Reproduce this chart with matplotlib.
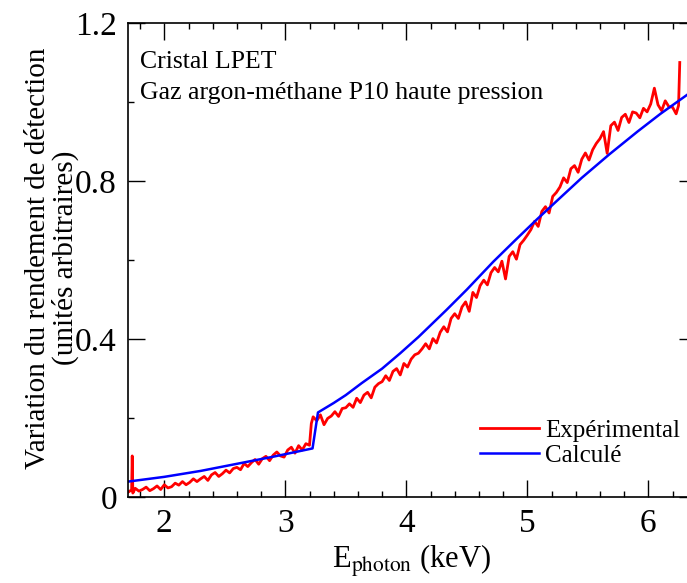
import matplotlib
matplotlib.use('Agg')
import matplotlib.pyplot as plt
from matplotlib.ticker import MultipleLocator, FuncFormatter

plt.rcParams.update({
    'font.family': 'Liberation Serif',
    'mathtext.fontset': 'stix',
    'font.size': 20,
})

exp_energy = [1.70, 1.73, 1.735, 1.74, 1.76, 1.79, 1.82, 1.85, 1.88, 1.91, 1.94, 1.97,
              2.00, 2.03, 2.06, 2.09, 2.12, 2.15, 2.18, 2.21, 2.24, 2.27,
              2.30, 2.33, 2.36, 2.39, 2.42, 2.45, 2.48, 2.51, 2.54, 2.57,
              2.60, 2.63, 2.66, 2.69, 2.72, 2.75, 2.78, 2.81, 2.84, 2.87,
              2.90, 2.93, 2.96, 2.99, 3.02, 3.05, 3.08, 3.11, 3.14, 3.17,
              3.20, 3.215, 3.23, 3.26, 3.29, 3.32, 3.35, 3.38, 3.41, 3.44, 3.47,
              3.50, 3.53, 3.56, 3.59, 3.62, 3.65, 3.68, 3.71, 3.74, 3.77,
              3.80, 3.83, 3.86, 3.89, 3.92, 3.95, 3.98, 4.01, 4.04, 4.07,
              4.10, 4.13, 4.16, 4.19, 4.22, 4.25, 4.28, 4.31, 4.34, 4.37,
              4.40, 4.43, 4.46, 4.49, 4.52, 4.55, 4.58, 4.61, 4.64, 4.67,
              4.70, 4.73, 4.76, 4.79, 4.82, 4.85, 4.88, 4.91, 4.94, 4.97,
              5.00, 5.03, 5.06, 5.09, 5.12, 5.15, 5.18, 5.21, 5.24, 5.27,
              5.30, 5.33, 5.36, 5.39, 5.42, 5.45, 5.48, 5.51, 5.54, 5.57,
              5.60, 5.63, 5.66, 5.69, 5.72, 5.75, 5.78, 5.81, 5.84, 5.87,
              5.90, 5.93, 5.96, 5.99, 6.02, 6.05, 6.08, 6.11, 6.14, 6.17,
              6.20, 6.23, 6.25, 6.26]
exp_yield = [0.012, 0.018, 0.104, 0.010, 0.022, 0.015, 0.019, 0.025, 0.016, 0.021, 0.028, 0.019,
             0.031, 0.023, 0.026, 0.035, 0.030, 0.039, 0.031, 0.037, 0.046, 0.039,
             0.046, 0.052, 0.042, 0.056, 0.062, 0.052, 0.059, 0.068, 0.061, 0.072,
             0.075, 0.069, 0.085, 0.077, 0.087, 0.095, 0.083, 0.097, 0.103, 0.092,
             0.106, 0.114, 0.104, 0.101, 0.119, 0.126, 0.111, 0.130, 0.119, 0.135,
             0.131, 0.186, 0.203, 0.193, 0.208, 0.183, 0.199, 0.205, 0.216, 0.204, 0.224,
             0.226, 0.236, 0.227, 0.250, 0.239, 0.258, 0.265, 0.251, 0.278, 0.287,
             0.292, 0.307, 0.295, 0.318, 0.325, 0.309, 0.338, 0.329, 0.349, 0.360,
             0.364, 0.375, 0.388, 0.375, 0.401, 0.390, 0.417, 0.431, 0.418, 0.452,
             0.464, 0.452, 0.481, 0.494, 0.470, 0.518, 0.505, 0.535, 0.549, 0.537,
             0.568, 0.581, 0.570, 0.597, 0.552, 0.609, 0.621, 0.602, 0.639, 0.650,
             0.663, 0.677, 0.698, 0.685, 0.723, 0.735, 0.719, 0.761, 0.771, 0.785,
             0.808, 0.796, 0.831, 0.839, 0.822, 0.855, 0.871, 0.853, 0.879, 0.895,
             0.907, 0.925, 0.870, 0.940, 0.949, 0.928, 0.961, 0.969, 0.948, 0.975,
             0.972, 0.960, 0.984, 0.975, 0.995, 1.035, 0.993, 0.978, 1.003, 0.988,
             0.987, 0.970, 0.991, 1.100]

# Calculated yield (blue)
calc_energy = [1.70, 2.00, 2.30, 2.60, 2.90, 3.225, 3.27, 3.40, 3.50, 3.63, 3.80,
               3.95, 4.10, 4.33, 4.50, 4.72, 4.90, 5.08, 5.27, 5.45, 5.68, 5.91,
               6.10, 6.32, 6.40]
calc_yield = [0.039, 0.051, 0.066, 0.084, 0.102, 0.123, 0.214, 0.238, 0.258, 0.288, 0.325,
              0.364, 0.405, 0.473, 0.525, 0.596, 0.650, 0.703, 0.757, 0.808, 0.868, 0.925,
              0.970, 1.018, 1.035]

fig = plt.figure(figsize=(6.87, 5.83), dpi=100)
ax = fig.add_axes([128/687, 1 - 497/583, 567.5/687, 474/583])

ax.plot(exp_energy, exp_yield, color='#ff0000', linewidth=2.0, label='Expérimental')
ax.plot(calc_energy, calc_yield, color='#0000ff', linewidth=1.8, label='Calculé')

ax.set_xlim(1.70, 6.39)
ax.set_ylim(0, 1.2)
ax.xaxis.set_major_locator(MultipleLocator(1))
ax.xaxis.set_minor_locator(MultipleLocator(0.2))
ax.yaxis.set_major_locator(MultipleLocator(0.4))
ax.yaxis.set_minor_locator(MultipleLocator(0.2))
ax.yaxis.set_major_formatter(FuncFormatter(lambda v, p: '0' if abs(v) < 1e-9 else f'{v:.1f}'))
ax.tick_params(which='both', direction='in', top=True, right=True, width=1.0)
ax.tick_params(which='major', length=12, labelsize=24, pad=8)
ax.tick_params(which='minor', length=4.5)
for s in ax.spines.values():
    s.set_linewidth(1.2)

ax.set_xlabel(r'E$_{\mathrm{photon}}$ (keV)', fontsize=22, labelpad=3)
fig.text(52/687, 1 - 258/583, 'Variation du rendement de détection\n(unités arbitraires)',
         rotation=90, ha='center', va='center', multialignment='center',
         fontsize=21, linespacing=1.05)

fig.text(140/687, 1 - 68/583, 'Cristal LPET', fontsize=18.5, va='baseline')
fig.text(140/687, 1 - 99/583, 'Gaz argon-méthane P10 haute pression', fontsize=18.5, va='baseline')

ax.legend(loc='upper left', bbox_to_anchor=(480/687, 1 - 419/583),
          bbox_transform=fig.transFigure, frameon=False, fontsize=18,
          handlelength=2.35, handletextpad=0.25, borderpad=0, borderaxespad=0,
          labelspacing=0.12)

fig.savefig('out.png', dpi=100)
